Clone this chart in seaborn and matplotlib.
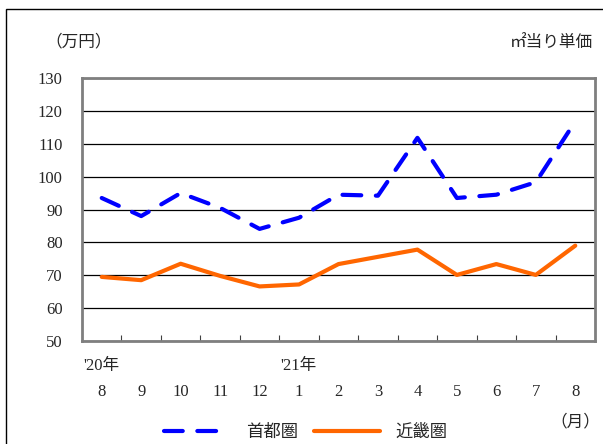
import pandas as pd
import matplotlib
matplotlib.use("Agg")
import matplotlib.pyplot as plt
import seaborn as sns
from matplotlib.patches import Rectangle
from matplotlib.ticker import FixedLocator

# data
months = ["8", "9", "10", "11", "12", "1", "2", "3", "4", "5", "6", "7", "8"]
shuto = [93.5, 88.0, 95.0, 90.5, 84.1, 87.5, 94.5, 94.2, 111.8, 93.5, 94.5, 98.3, 116.8]
kinki = [69.5, 68.5, 73.5, 69.8, 66.6, 67.2, 73.4, 75.6, 77.8, 70.1, 73.4, 70.1, 79.0]
yticks = [50, 60, 70, 80, 90, 100, 110, 120, 130]

df = pd.DataFrame({
    "pos": list(range(len(months))) * 2,
    "value": shuto + kinki,
    "area": ["首都圏"] * len(months) + ["近畿圏"] * len(months),
})

sns.set_theme(style="white")
plt.rcParams["font.family"] = ["Liberation Serif", "Noto Sans CJK JP", "DejaVu Sans"]

fig = plt.figure(figsize=(6.03, 4.44), dpi=100)
ax = fig.add_axes([82 / 603, 1 - 341 / 444, 513 / 603, 263 / 444])

sns.lineplot(data=df, x="pos", y="value", hue="area", style="area",
             palette={"首都圏": "#0000FF", "近畿圏": "#FF6600"},
             dashes={"首都圏": (4.5, 3.5), "近畿圏": ""},
             linewidth=3.0, ax=ax, legend=False)
for ln in ax.lines:
    ln.set_solid_capstyle("round")
    ln.set_dash_capstyle("round")

ax.set_xlim(-0.5, len(months) - 0.5)
ax.set_ylim(50, 130)
ax.set_yticks(yticks)
ax.set_yticklabels([str(v) for v in yticks], fontsize=12)
ax.yaxis.grid(True, color="black", linewidth=0.9)
ax.set_axisbelow(True)
ax.tick_params(axis="y", length=0, pad=14)

ax.set_xticks(range(len(months)))
ax.set_xticklabels(months, fontsize=12)
ax.tick_params(axis="x", which="major", length=0, pad=31)
ax.xaxis.set_minor_locator(FixedLocator([i + 0.5 for i in range(len(months) - 1)]))
ax.tick_params(axis="x", which="minor", bottom=True, direction="in", length=4,
               width=0.8, color="#404040")
ax.set_xlabel("")
ax.set_ylabel("")

for side in ax.spines.values():
    side.set_color("#7f7f7f")
    side.set_linewidth(2.0)

# year labels under the month ticks
ax.text(-0.47, -0.065, "'20年", transform=ax.get_xaxis_transform(),
        fontsize=12, va="top", ha="left")
ax.text(4.53, -0.065, "'21年", transform=ax.get_xaxis_transform(),
        fontsize=12, va="top", ha="left")

fig.text(45 / 603, 1 - 42 / 444, "（万円）", fontsize=12, va="center", ha="left",
         family=["Noto Sans CJK JP", "DejaVu Sans"])
fig.text(593 / 603, 1 - 42 / 444, "㎡当り単価", fontsize=12, va="center", ha="right",
         family=["Noto Sans CJK JP", "DejaVu Sans"])
fig.text(600 / 603, 1 - 422 / 444, "（月）", fontsize=12, va="center", ha="right",
         family=["Noto Sans CJK JP", "DejaVu Sans"])

# outer frame
fig.patches.append(Rectangle((6 / 603, -0.01), 1.0, 1 - 9 / 444 + 0.01,
                             transform=fig.transFigure, fill=False,
                             edgecolor="black", linewidth=1.0))

handles = ax.lines[:2]
leg = fig.legend(handles, ["首都圏", "近畿圏"], loc="center", ncol=2,
                 bbox_to_anchor=(306 / 603, 1 - 432 / 444), frameon=False,
                 handlelength=3.8, columnspacing=0.9, handletextpad=0.9,
                 prop={"family": ["Noto Sans CJK JP", "DejaVu Sans"], "size": 12.5})

fig.savefig("out.png", dpi=100)
